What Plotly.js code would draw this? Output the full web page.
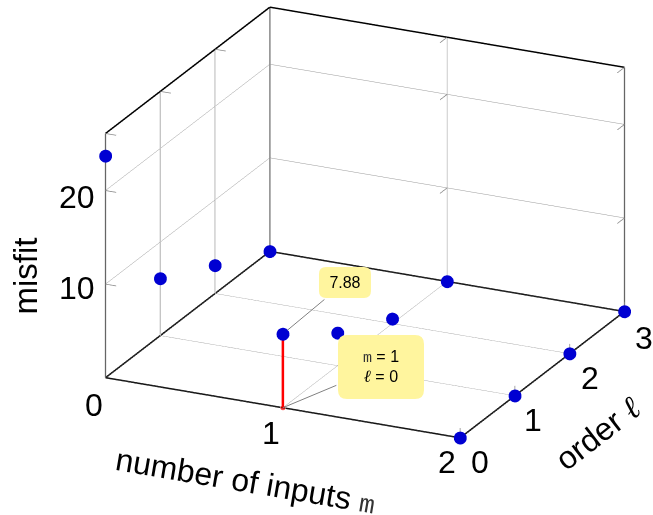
<!DOCTYPE html>
<html><head><meta charset="utf-8">
<script src="https://cdn.plot.ly/plotly-3.0.1.min.js"></script>
<style>html,body{margin:0;padding:0;background:#fff}#c{width:653px;height:515px}</style></head>
<body><div id="c"></div>
<script>
const inputs = [0,0,0,0,1,1,1,1,2,2,2,2];
const orders = [0,1,2,3,0,1,2,3,0,1,2,3];
const misfit = [23.7,6.1,3.0,0,7.88,3.5,0.5,0,0,0,0,0];
const mTicks = [0,1,2];
const lTicks = [0,1,2,3];
const zTicks = [10,20];
const zMax = 26.1;
const FONT = '"Liberation Sans", Arial, sans-serif';
const BLUE = '#0000d2';

function seg(list){
  const x=[],y=[],z=[];
  list.forEach(s=>{x.push(s[0][0],s[1][0],null);y.push(s[0][1],s[1][1],null);z.push(s[0][2],s[1][2],null);});
  return {x,y,z};
}
function lines(list,color,width){
  return Object.assign({type:'scatter3d',mode:'lines',line:{color,width},hoverinfo:'skip',showlegend:false},seg(list));
}
const lMax=lTicks[lTicks.length-1], mMax=mTicks[mTicks.length-1];
const traces=[];
traces.push(lines([1,2].map(l=>[[0,l,0],[0,l,zMax]]),'#d4d4d4',3));
traces.push(lines([[[0,0,0],[0,0,zMax]],[[0,lMax,0],[0,lMax,zMax]],[[mMax,lMax,0],[mMax,lMax,zMax]]],'#555555',2.5));
const st=[];
[1,2].forEach(l=>{st.push([[0,l,0],[0,l,1]],[[0,l,zMax],[0,l,zMax-1]],[[0,l,zMax],[0.06,l,zMax]],[[2,l,0],[2,l,1.05]]);});
[0,3].forEach(l=>st.push([[2,l,0],[2,l,1.05]]));
[10,20,zMax].forEach(z=>{st.push([[0,0,z],[0.06,0,z]],[[2,3,z],[2,2.87,z]],[[1,3,z],[1,2.87,z]]);});
traces.push(lines(st,'#888888',1.5));
traces.push(lines([
 [[0,0,0],[mMax,0,0]],[[mMax,0,0],[mMax,lMax,0]],[[0,0,0],[0,lMax,0]],[[0,lMax,0],[mMax,lMax,0]],
 [[0,0,zMax],[0,lMax,zMax]],[[0,lMax,zMax],[mMax,lMax,zMax]]],'#000000',3));
traces.push({type:'scatter3d',scene:'scene2',mode:'lines+markers',x:[inputs[4],inputs[4]],y:[orders[4],orders[4]],z:[0,misfit[4]],
  line:{color:'#ff0000',width:5},marker:{color:'#ff0000',size:[6,1]},hoverinfo:'skip',showlegend:false});
traces.push({type:'scatter3d',scene:'scene2',mode:'markers',x:inputs,y:orders,z:misfit,marker:{color:BLUE,size:7.5,line:{width:0}},hoverinfo:'skip',showlegend:false});

function label(x,y,z,text,dx,dy,opt){
  return Object.assign({x,y,z,text,showarrow:false,xshift:dx,yshift:-dy,font:{family:FONT,size:32,color:'#000'},xanchor:'center',yanchor:'middle'},opt||{});
}
const anns=[];
const mShift=[[-12,27],[-12,25],[-13,24]];
mTicks.forEach((m,i)=>anns.push(label(m,0,0,String(m),mShift[i][0],mShift[i][1])));
const lShift=[[20,24],[18,24],[20,24],[20,26]];
lTicks.forEach((l,i)=>anns.push(label(2,l,0,String(l),lShift[i][0],lShift[i][1])));
const zShift=[[-29,4],[-29,6]];
zTicks.forEach((t,i)=>anns.push(label(0,0,t,String(t),zShift[i][0],zShift[i][1])));
const mono=s=>'<span style="font-family:\'Liberation Mono\',monospace;font-size:'+s+'px;fill:#333">m</span>';
const ell=s=>'<span style="font-family:\'Liberation Serif\',serif;font-style:italic;font-size:'+s+'px">ℓ</span>';
anns.push(label(1,0,0,'number of inputs '+mono(26),-37,74,{textangle:9.6}));
anns.push(label(2,1.5,0,'order '+ell(32),56,58,{textangle:-37.8}));
anns.push(label(0,0,13,'misfit',-81,20,{textangle:-90,font:{family:FONT,size:33,color:'#000'}}));
anns.push({x:1,y:0,z:misfit[4],text:'7.88',showarrow:true,arrowhead:0,arrowwidth:1,arrowcolor:'#808080',ax:62,ay:-51.5,standoff:6,
  width:52,height:31,font:{family:FONT,size:16,color:'#000'},bgcolor:'rgba(0,0,0,0)'});
anns.push({x:1,y:0,z:0,text:mono(15)+' = 1<br>'+ell(17)+' = 0',showarrow:true,arrowhead:0,arrowwidth:1,arrowcolor:'#808080',ax:98,ay:-41,standoff:0,
  width:86,height:64,font:{family:FONT,size:16,color:'#000'},bgcolor:'rgba(0,0,0,0)'});

function rounded(x0,y0,x1,y1,r){
  const W=653,H=515,X=v=>(v/W).toFixed(4),Y=v=>(1-v/H).toFixed(4);
  return 'M'+X(x0+r)+','+Y(y0)+' L'+X(x1-r)+','+Y(y0)+' Q'+X(x1)+','+Y(y0)+' '+X(x1)+','+Y(y0+r)+
   ' L'+X(x1)+','+Y(y1-r)+' Q'+X(x1)+','+Y(y1)+' '+X(x1-r)+','+Y(y1)+' L'+X(x0+r)+','+Y(y1)+
   ' Q'+X(x0)+','+Y(y1)+' '+X(x0)+','+Y(y1-r)+' L'+X(x0)+','+Y(y0+r)+' Q'+X(x0)+','+Y(y0)+' '+X(x0+r)+','+Y(y0)+' Z';
}
const shapes=[[319,267,371,298,7],[338,335,424,399,9]].map(b=>({type:'path',xref:'paper',yref:'paper',path:rounded(...b),fillcolor:'#fff59e',line:{width:0},layer:'above'}));

const axis=(vals,range)=>({range,autorange:false,tickmode:'array',tickvals:vals,showticklabels:false,ticks:'',title:{text:''},
  showgrid:true,gridcolor:'#999999',gridwidth:1,showline:false,zeroline:false,showbackground:false,showspikes:false});
const hidden=(range)=>({range,autorange:false,visible:false,showgrid:false,showline:false,zeroline:false,showticklabels:false,ticks:'',showbackground:false,showspikes:false,title:{text:''}});
const base={domain:{x:[0.118,1],y:[0.136,1]},aspectmode:'manual',aspectratio:{x:1.761,y:1.737,z:1.177},dragmode:false,
    camera:{projection:{type:'orthographic'},up:{x:0,y:0,z:1},center:{x:0,y:0,z:0},eye:{x:0.793,y:-1.688,z:0.722}}};
const layout={width:653,height:515,margin:{l:0,r:0,t:0,b:0},paper_bgcolor:'#fff',showlegend:false,shapes,
  scene:Object.assign({},base,{xaxis:axis(mTicks,[0,2]),yaxis:axis(lTicks,[0,3]),zaxis:axis(zTicks,[0,zMax]),annotations:anns}),
  scene2:Object.assign({},base,{xaxis:hidden([0,2]),yaxis:hidden([0,3]),zaxis:hidden([0,zMax])})};
Plotly.newPlot('c',traces,layout,{displayModeBar:false});
</script></body></html>
